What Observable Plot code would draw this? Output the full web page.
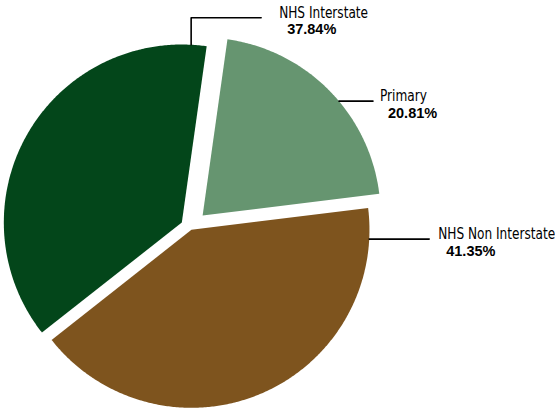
<!DOCTYPE html>
<html><head><meta charset="utf-8">
<script src="https://cdn.jsdelivr.net/npm/d3@7"></script>
<script src="https://cdn.jsdelivr.net/npm/@observablehq/plot@0.6"></script>
<style>
body{margin:0;background:#fff;}
#chart{width:555px;height:411px;}
</style>
</head><body><div id="chart"></div>
<script>
// ---- data ----
const categories = ["NHS Interstate", "Primary", "NHS Non Interstate"];
const shares = [37.84, 20.81, 41.35];
const percentLabels = ["37.84%", "20.81%", "41.35%"];
const colors = ["#03461a", "#669570", "#7e541e"];

// ---- layout (pixels) ----
const W = 555, H = 411, cx = 190, cy = 227, R = 178;
const startDeg = 231.8;
const explode = [10, 17, 2.5];
const leaders = [
  {attach: 3,  rise: 27, run: 70, gap: 18},
  {attach: 50, rise: 0,  run: 34, gap: 7},
  {attach: 93, rise: 0,  run: 60, gap: 9}
];
const condense = 0.81; // narrow-font emulation
const rad = Math.PI / 180;

const rows = categories.map((c, i) => ({name: c, share: shares[i], pct: percentLabels[i], i}));
const arcs = d3.pie().sort(null).value(d => d.share)
  .startAngle(startDeg * rad).endAngle(startDeg * rad + 2 * Math.PI)(rows);

const pt = (ox, oy, r, a) => [ox + r * Math.sin(a), oy - r * Math.cos(a)];

const slicePts = [];
const leaderPts = [];
const labelRows = [];
arcs.forEach(a => {
  const d = a.data;
  const mid = (a.startAngle + a.endAngle) / 2;
  const [ox, oy] = pt(cx, cy, explode[d.i], mid);
  slicePts.push({name: d.name, x: ox, y: oy});
  const n = Math.ceil((a.endAngle - a.startAngle) / (0.5 * rad));
  for (let k = 0; k <= n; k++) {
    const ang = a.startAngle + (a.endAngle - a.startAngle) * k / n;
    const [x, y] = pt(ox, oy, R, ang);
    slicePts.push({name: d.name, x, y});
  }
  slicePts.push({name: d.name, x: ox, y: oy});
  const L = leaders[d.i];
  const [ax, ay] = pt(ox, oy, R, L.attach * rad);
  const ex = ax, ey = ay - L.rise;
  const fx = ex + L.run, fy = ey;
  leaderPts.push({name: d.name, x: ax, y: ay}, {name: d.name, x: ex, y: ey}, {name: d.name, x: fx, y: fy});
  labelRows.push({name: d.name, pct: d.pct, x: fx + L.gap, y: fy});
});

const chart = Plot.plot({
  width: W, height: H,
  margin: 0,
  x: {domain: [0, W], range: [0, W], axis: null},
  y: {domain: [0, H], range: [0, H], axis: null},
  color: {domain: categories, range: colors},
  style: {background: "#fff"},
  marks: [
    Plot.line(slicePts, {x: "x", y: "y", z: "name", fill: "name", stroke: "none", curve: "linear"}),
    Plot.line(leaderPts, {x: "x", y: "y", z: "name", stroke: "#000", strokeWidth: 1.6, curve: "linear"}),
    Plot.text(labelRows, {x: "x", y: "y", text: "name", textAnchor: "start", lineAnchor: "bottom",
      fontSize: 15, fontFamily: "'DejaVu Sans',sans-serif", fill: "#000", className: "lbl"}),
    Plot.text(labelRows, {x: "x", y: "y", text: "pct", textAnchor: "start", lineAnchor: "bottom",
      fontSize: 14.5, fontWeight: "bold", fontFamily: "'Liberation Sans',Arial,sans-serif", fill: "#000",
      dx: 8, dy: 16.6, style: "letter-spacing:0.3px"})
  ]
});
document.getElementById("chart").appendChild(chart);
// emulate a condensed face for the category labels (horizontal scale about the text anchor)
chart.querySelectorAll(".lbl text").forEach(t => {
  const x = +(t.getAttribute("x") || 0);
  const prev = t.getAttribute("transform") || "";
  t.setAttribute("transform", `${prev} translate(${x},0) scale(${condense},1) translate(${-x},0)`.trim());
});
</script>
</body></html>
